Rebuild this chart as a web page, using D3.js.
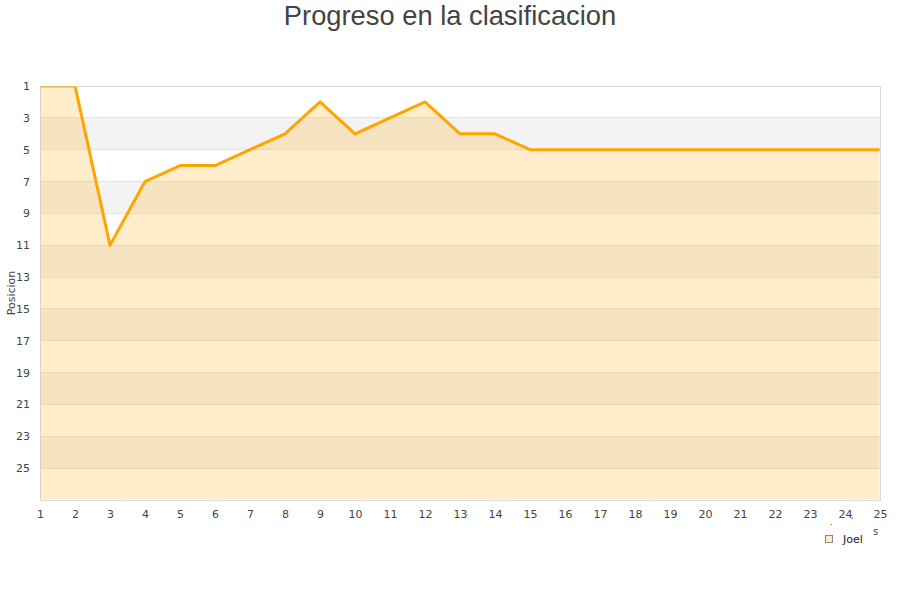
<!DOCTYPE html>
<html><head><meta charset="utf-8">
<script src="https://cdn.jsdelivr.net/npm/d3@7"></script>
<style>body{margin:0;background:#fff}svg{display:block}</style>
</head><body><svg id="c" width="900" height="600"></svg>
<script>
const rounds = [1,2,3,4,5,6,7,8,9,10,11,12,13,14,15,16,17,18,19,20,21,22,23,24,25];
const positions = [1,1,11,7,6,6,5,4,2,4,3,2,4,4,5,5,5,5,5,5,5,5,5,5,5];
const yTicks = [1,3,5,7,9,11,13,15,17,19,21,23,25];
const seriesName = "Joel";
const titleText = "Progreso en la clasificacion";
const yTitle = "Posicion";

const svg = d3.select("#c");
const L=40,R=880,T=86,B=500;
const x = d3.scaleLinear().domain([1,25]).range([L,R]);
const y = d3.scaleLinear().domain([1,27]).range([T,B]);

// bands
const bands = d3.range(1,27,2);
svg.append("g").selectAll("rect").data(bands).join("rect")
  .attr("x",L).attr("width",R-L)
  .attr("y",d=>y(d)).attr("height",d=>y(d+2)-y(d))
  .attr("fill",(d,i)=>i%2? "#f3f3f3":"#ffffff");
// grid
svg.append("g").selectAll("line").data(yTicks).join("line")
  .attr("x1",L).attr("x2",R).attr("y1",d=>y(d)).attr("y2",d=>y(d))
  .attr("stroke","#e4e4e4").attr("stroke-width",1).attr("shape-rendering","crispEdges");

// border
svg.append("rect").attr("x",L).attr("y",T).attr("width",R-L).attr("height",B-T)
  .attr("fill","none").attr("stroke","#d8d8d8").attr("stroke-width",1).attr("shape-rendering","crispEdges");

svg.append("clipPath").attr("id","clip").append("rect").attr("x",L+0.5).attr("y",T+0.5).attr("width",R-L-1).attr("height",B-T-1);
const data = rounds.map((r,i)=>({r,p:positions[i]}));
const g = svg.append("g").attr("clip-path","url(#clip)");
g.append("path").datum(data)
  .attr("d",d3.area().x(d=>x(d.r)).y0(B).y1(d=>y(d.p)))
  .attr("fill","#ffa500").attr("fill-opacity",0.2);
g.append("path").datum(data)
  .attr("d",d3.line().x(d=>x(d.r)).y(d=>y(d.p)))
  .attr("fill","none").attr("stroke","#ffa500").attr("stroke-width",3).attr("stroke-linejoin","round");

const font = "'DejaVu Sans', Verdana, sans-serif";
// y axis
const ya = svg.append("g").attr("transform",`translate(${L},0)`)
  .call(d3.axisLeft(y).tickValues(yTicks).tickSize(0).tickPadding(10));
ya.select(".domain").remove();
ya.selectAll("text").attr("font-family",font).attr("font-size",11).attr("fill","#444");
// x axis
const xa = svg.append("g").attr("transform",`translate(0,${B})`)
  .call(d3.axisBottom(x).tickValues(rounds).tickSize(0).tickPadding(10));
xa.select(".domain").remove();
xa.selectAll("text").attr("font-family",font).attr("font-size",11).attr("fill","#444");

// titles
svg.append("text").attr("x",450).attr("y",25).attr("text-anchor","middle")
  .attr("font-family","'Liberation Sans', Arial, sans-serif").attr("font-size",27.3).attr("fill","#444").text(titleText);
svg.append("text").attr("transform","translate(15,293) rotate(-90)").attr("text-anchor","middle")
  .attr("font-family",font).attr("font-size",11).attr("fill","#444").text(yTitle);

// clipped x-axis title remnants
svg.append("text").attr("x",873).attr("y",535).attr("font-family",font).attr("font-size",10).attr("fill","#444").text("s");
svg.append("text").attr("x",830).attr("y",525).attr("font-family",font).attr("font-size",8).attr("fill","#444").text(".");
svg.append("text").attr("x",851).attr("y",524).attr("font-family",font).attr("font-size",8).attr("fill","#444").text("'");

// legend
svg.append("rect").attr("x",825.5).attr("y",535.5).attr("width",7).attr("height",7)
  .attr("fill","#ffedcc").attr("stroke","#888").attr("stroke-width",1);
svg.append("text").attr("x",843).attr("y",543).attr("font-family",font).attr("font-size",11).attr("fill","#222").text(seriesName);
</script></body></html>
